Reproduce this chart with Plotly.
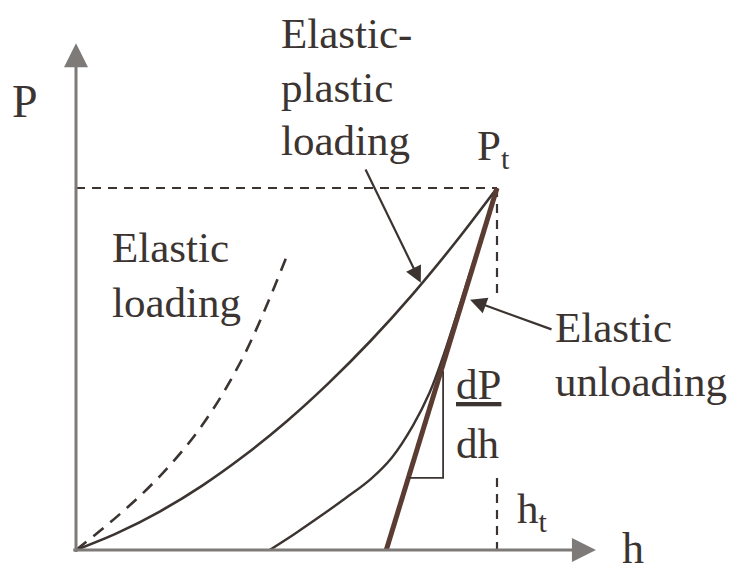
import plotly.graph_objects as go

# Schematic nanoindentation curve, normalised units: h / h_t and P / P_t
h_load = [0, 0.1, 0.2, 0.3, 0.4, 0.5, 0.6, 0.7, 0.8, 0.9, 1.0]
P_load = [0, 0.048, 0.107, 0.178, 0.261, 0.355, 0.461, 0.578, 0.707, 0.848, 1.0]

h_elastic = [0, 0.1, 0.2, 0.3, 0.4, 0.5]
P_elastic = [0, 0.095, 0.205, 0.345, 0.54, 0.81]

h_unload = [0.46, 0.52, 0.58, 0.64, 0.70, 0.75, 0.80, 0.84, 0.87, 0.935, 1.0]
P_unload = [0, 0.045, 0.093, 0.143, 0.196, 0.255, 0.343, 0.435, 0.528, 0.762, 1.0]

h_tangent = [0.737, 1.0]
P_tangent = [0, 1.0]

h_tri = [0.789, 0.872, 0.872]
P_tri = [0.199, 0.199, 0.494]

h_t = 1.0
P_t = 1.0
h_axis_end = 1.235
P_axis_end = 1.40

INK = "#3b3431"
AX = "#7d7a78"
FONT = "Liberation Serif"

fig = go.Figure()

# reference dashed lines
fig.add_trace(go.Scatter(x=[0, h_t], y=[P_t, P_t], mode="lines",
                         line=dict(color=INK, width=2.2, dash="9px,7px"), hoverinfo="skip"))
fig.add_trace(go.Scatter(x=[h_t, h_t, None, h_t, h_t], y=[P_t, 0.696, None, 0.199, 0], mode="lines",
                         line=dict(color=INK, width=2.2, dash="9px,7px"), hoverinfo="skip"))

# elastic loading (dashed)
fig.add_trace(go.Scatter(x=h_elastic, y=P_elastic, mode="lines", line_shape="spline",
                         line=dict(color=INK, width=2.6, dash="13px,9px"), hoverinfo="skip"))
# elastic-plastic loading
fig.add_trace(go.Scatter(x=h_load, y=P_load, mode="lines", line_shape="spline",
                         line=dict(color=INK, width=2.6), hoverinfo="skip"))
# unloading
fig.add_trace(go.Scatter(x=h_unload, y=P_unload, mode="lines", line_shape="spline",
                         line=dict(color=INK, width=2.4), hoverinfo="skip"))
# tangent (elastic unloading)
fig.add_trace(go.Scatter(x=h_tangent, y=P_tangent, mode="lines",
                         line=dict(color="#5a3c32", width=5), hoverinfo="skip"))
# slope triangle
fig.add_trace(go.Scatter(x=h_tri, y=P_tri, mode="lines",
                         line=dict(color=INK, width=1.8), hoverinfo="skip"))

annotations = []
# axes with arrows
annotations.append(dict(x=0, y=P_axis_end, ax=0, ay=-0.01, xref="x", yref="y", axref="x", ayref="y",
                        showarrow=True, arrowhead=2, arrowsize=1.6, arrowwidth=3, arrowcolor=AX, text=""))
annotations.append(dict(x=h_axis_end, y=0, ax=-0.01, ay=0, xref="x", yref="y", axref="x", ayref="y",
                        showarrow=True, arrowhead=2, arrowsize=1.6, arrowwidth=3, arrowcolor=AX, text=""))
# pointer arrows
annotations.append(dict(x=0.819, y=0.738, ax=0.686, ay=1.055, xref="x", yref="y", axref="x", ayref="y",
                        showarrow=True, arrowhead=2, arrowsize=1.5, arrowwidth=2.2, arrowcolor=INK, text=""))
annotations.append(dict(x=0.936, y=0.691, ax=1.133, ay=0.608, xref="x", yref="y", axref="x", ayref="y",
                        showarrow=True, arrowhead=2, arrowsize=1.5, arrowwidth=2.2, arrowcolor=INK, text=""))

def label(text, x, y, size=43, yanchor="middle"):
    annotations.append(dict(text=text, x=x, y=y, xref="x", yref="y", showarrow=False,
                            xanchor="left", yanchor=yanchor, align="left",
                            font=dict(family=FONT, size=size, color=INK)))

label("Elastic-", 0.483, 1.427)
label("plastic", 0.483, 1.279)
label("loading", 0.483, 1.131)
label("Elastic", 0.080, 0.835)
label("loading", 0.080, 0.685)
label("Elastic", 1.133, 0.615)
label("unloading", 1.133, 0.465)
label("P", -0.157, 1.238, 46)
label("P<sub>t</sub>", 0.948, 1.107)
label("<span style='text-decoration:underline'>dP</span>", 0.898, 0.457)
label("dh", 0.898, 0.293)
label("h<sub>t</sub>", 1.043, 0.104)
label("h", 1.293, -0.07, 44, "bottom")

fig.update_layout(
    width=736, height=575,
    margin=dict(l=0, r=0, t=0, b=0),
    paper_bgcolor="white", plot_bgcolor="white",
    showlegend=False,
    xaxis=dict(range=[-68 / 421, (736 - 68) / 421], visible=False, fixedrange=True),
    yaxis=dict(range=[(542 - 575) / 362, 542 / 362], visible=False, fixedrange=True),
    annotations=annotations,
)

fig.write_html("out.html")
